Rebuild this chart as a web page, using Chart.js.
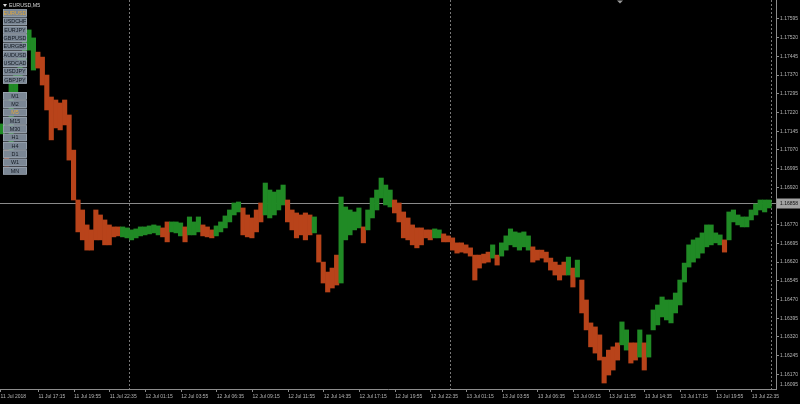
<!DOCTYPE html>
<html><head><meta charset="utf-8">
<script src="https://cdn.jsdelivr.net/npm/chart.js@4.4.1/dist/chart.umd.min.js"></script>
<style>html,body{margin:0;padding:0;background:#000;overflow:hidden}canvas{display:block}</style>
</head><body>
<canvas id="c" width="800" height="404"></canvas>
<script>
// ---------------- DATA ----------------
const symbolName = 'EURUSD';
const timeframeName = 'M5';
const symbols = ['EURUSD','USDCHF','EURJPY','GBPUSD','EURGBP','AUDUSD','USDCAD','USDJPY','GBPJPY'];
const timeframes = ['M1','M2','M5','M15','M30','H1','H4','D1','W1','MN'];
const firstBarTime = Date.UTC(2018, 6, 11, 14, 25);
const barMinutes = 5;
const barsPerSample = 4;   // each drawn block = 4 five-minute bars (20 min)

const highs = [
1.17174,1.17069,1.17350,1.17390,1.17450,1.17511,1.17551,1.17519,1.17462,1.17442,
1.17370,1.17282,1.17270,1.17258,1.17270,1.17210,1.17069,1.16869,1.16829,1.16769,
1.16749,1.16829,1.16809,1.16789,1.16769,1.16761,1.16761,1.16761,1.16757,1.16749,
1.16753,1.16761,1.16761,1.16765,1.16769,1.16765,1.16757,1.16781,1.16781,1.16781,
1.16777,1.16761,1.16801,1.16781,1.16801,1.16769,1.16761,1.16749,1.16765,1.16781,
1.16805,1.16829,1.16857,1.16861,1.16837,1.16809,1.16797,1.16829,1.16857,1.16937,
1.16909,1.16901,1.16909,1.16929,1.16869,1.16829,1.16817,1.16809,1.16817,1.16809,
1.16801,1.16729,1.16620,1.16580,1.16596,1.16648,1.16881,1.16841,1.16829,1.16821,
1.16837,1.16761,1.16829,1.16877,1.16909,1.16957,1.16929,1.16909,1.16869,1.16857,
1.16821,1.16797,1.16769,1.16757,1.16757,1.16749,1.16749,1.16753,1.16749,1.16733,
1.16725,1.16717,1.16697,1.16697,1.16689,1.16677,1.16648,1.16648,1.16652,1.16660,
1.16689,1.16648,1.16697,1.16725,1.16753,1.16741,1.16737,1.16741,1.16725,1.16681,
1.16668,1.16668,1.16660,1.16636,1.16620,1.16608,1.16620,1.16640,1.16596,1.16628,
1.16548,1.16468,1.16376,1.16360,1.16328,1.16239,1.16267,1.16280,1.16296,1.16380,
1.16348,1.16296,1.16296,1.16348,1.16296,1.16328,1.16428,1.16448,1.16480,1.16468,
1.16468,1.16496,1.16548,1.16616,1.16689,1.16709,1.16717,1.16737,1.16769,1.16769,
1.16737,1.16729,1.16709,1.16821,1.16829,1.16809,1.16801,1.16801,1.16829,1.16853,
1.16869,1.16869,1.16869
];
const lows = [
1.17134,1.17005,1.17069,1.17302,1.17350,1.17422,1.17470,1.17390,1.17398,1.17330,
1.17230,1.17110,1.17158,1.17150,1.17170,1.17029,1.16869,1.16741,1.16709,1.16668,
1.16668,1.16709,1.16709,1.16689,1.16689,1.16721,1.16725,1.16721,1.16717,1.16709,
1.16717,1.16725,1.16729,1.16733,1.16737,1.16729,1.16721,1.16701,1.16741,1.16737,
1.16725,1.16701,1.16729,1.16729,1.16741,1.16725,1.16721,1.16717,1.16725,1.16741,
1.16757,1.16781,1.16809,1.16821,1.16729,1.16721,1.16717,1.16741,1.16781,1.16809,
1.16797,1.16809,1.16829,1.16849,1.16781,1.16749,1.16717,1.16729,1.16709,1.16729,
1.16737,1.16620,1.16536,1.16500,1.16516,1.16528,1.16536,1.16709,1.16729,1.16749,
1.16757,1.16697,1.16749,1.16797,1.16829,1.16877,1.16849,1.16841,1.16817,1.16781,
1.16717,1.16709,1.16689,1.16677,1.16689,1.16717,1.16709,1.16717,1.16717,1.16701,
1.16701,1.16668,1.16656,1.16660,1.16656,1.16644,1.16548,1.16596,1.16616,1.16620,
1.16636,1.16608,1.16644,1.16668,1.16689,1.16681,1.16668,1.16681,1.16668,1.16620,
1.16628,1.16636,1.16620,1.16588,1.16568,1.16548,1.16568,1.16568,1.16520,1.16560,
1.16416,1.16348,1.16280,1.16255,1.16227,1.16135,1.16167,1.16187,1.16227,1.16288,
1.16267,1.16215,1.16227,1.16239,1.16187,1.16239,1.16348,1.16368,1.16400,1.16388,
1.16376,1.16416,1.16448,1.16540,1.16600,1.16620,1.16636,1.16656,1.16681,1.16689,
1.16697,1.16689,1.16660,1.16709,1.16781,1.16769,1.16761,1.16761,1.16789,1.16809,
1.16829,1.16821,1.16837
];
// 1 = rising (green), -1 = falling (orange)
const direction = [
1,-1,1,1,1,1,1,1,
-1,-1,-1,-1,-1,-1,-1,-1,-1,-1,-1,-1,-1,-1,-1,-1,-1,-1,-1,
1,1,1,1,1,1,1,1,1,
-1,-1,1,1,1,-1,1,1,1,-1,-1,-1,
1,1,1,1,1,1,
-1,-1,-1,-1,-1,
1,1,1,1,1,
-1,-1,-1,-1,-1,-1,
1,
-1,-1,-1,-1,-1,
1,1,1,1,1,
-1,
1,1,1,1,1,1,
-1,-1,-1,-1,-1,-1,-1,-1,-1,
1,1,
-1,-1,-1,-1,-1,-1,-1,-1,-1,-1,-1,
1,-1,
1,1,1,1,1,1,1,
-1,-1,-1,-1,-1,-1,-1,-1,
1,-1,1,
-1,-1,-1,-1,-1,-1,-1,-1,-1,
1,1,-1,-1,1,-1,
1,1,1,1,1,1,1,1,1,1,1,1,1,1,1,1,1,
-1,
1,1,1,1,1,1,1,1,1,1
];
const lastPrice = 1.16858;
const yTicks = [1.16170,1.16245,1.16320,1.16395,1.16470,1.16545,1.16620,1.16695,1.16770,1.16845,
                1.16920,1.16995,1.17070,1.17145,1.17220,1.17295,1.17370,1.17445,1.17520,1.17595];
const yBottomLabel = '1.16095';
const xTickLabels = ['11 Jul 2018','11 Jul 17:15','11 Jul 19:55','11 Jul 22:35','12 Jul 01:15','12 Jul 03:55',
  '12 Jul 06:35','12 Jul 09:15','12 Jul 11:55','12 Jul 14:35','12 Jul 17:15','12 Jul 19:55','12 Jul 22:35',
  '13 Jul 01:15','13 Jul 03:55','13 Jul 06:35','13 Jul 09:15','13 Jul 11:55','13 Jul 14:35','13 Jul 17:15',
  '13 Jul 19:55','13 Jul 22:35'];
const daySeparators = [Date.UTC(2018,6,12), Date.UTC(2018,6,13), Date.UTC(2018,6,14)];
const viewMinPrice = 1.16111, viewMaxPrice = 1.17671;
const viewFirstBar = -0.5, viewLastBar = 695.7;

// ---------------- HELPERS ----------------
const GREEN = '#208a25', ORANGE = '#b8431a', AXIS = '#8c8c8c', TXT = '#b5b5b5';
const FONT = '"Liberation Sans", Arial, sans-serif';
function barIndex(t){ return (t - firstBarTime) / (barMinutes * 60000); }
function labelTime(s){
  const m = /^(\d+) Jul (\d\d):(\d\d)$/.exec(s);
  return m ? Date.UTC(2018, 6, +m[1], +m[2], +m[3]) : firstBarTime;
}
const xTickValues = xTickLabels.map(s => barIndex(labelTime(s)));
const points = highs.map((h, k) => ({ x: k * barsPerSample + (barsPerSample - 1) / 2, y: [lows[k], h] }));

const mtPlugin = {
  id: 'mt',
  beforeDatasetsDraw(chart){
    const {ctx, chartArea:a, scales:{x, y}} = chart;
    ctx.save();
    // day separators
    ctx.strokeStyle = '#777'; ctx.lineWidth = 1; ctx.setLineDash([2, 2]);
    daySeparators.forEach(t => {
      const px = Math.round(x.getPixelForValue(barIndex(t))) + 0.5;
      ctx.beginPath(); ctx.moveTo(px, a.top); ctx.lineTo(px, a.bottom); ctx.stroke();
    });
    ctx.setLineDash([]);
    // price line
    const py = Math.round(y.getPixelForValue(lastPrice)) + 0.5;
    ctx.strokeStyle = '#8a8a8a';
    ctx.beginPath(); ctx.moveTo(a.left, py); ctx.lineTo(a.right, py); ctx.stroke();
    ctx.restore();
  },
  afterDraw(chart){
    const {ctx, chartArea:a, scales:{x, y}} = chart;
    ctx.save();
    // price label
    const py = Math.round(y.getPixelForValue(lastPrice));
    ctx.fillStyle = '#a3a3a3';
    ctx.fillRect(a.right + 1, py - 4.5, 23, 10);
    ctx.fillStyle = '#111';
    ctx.font = '5px ' + FONT; ctx.textBaseline = 'middle'; ctx.textAlign = 'left';
    ctx.fillText(lastPrice.toFixed(5), a.right + 4, py + 0.5);
    // bottom price label
    ctx.fillStyle = TXT;
    ctx.textBaseline = 'bottom';
    ctx.fillText(yBottomLabel, a.right + 4, a.bottom - 2);
    // chart shift marker
    ctx.fillStyle = '#9a9a9a';
    ctx.beginPath(); ctx.moveTo(617, 0.5); ctx.lineTo(623, 0.5); ctx.lineTo(620, 3.5); ctx.closePath(); ctx.fill();
    // title
    ctx.fillStyle = '#d8d8d8';
    ctx.beginPath(); ctx.moveTo(3, 4); ctx.lineTo(7, 4); ctx.lineTo(5, 7); ctx.closePath(); ctx.fill();
    ctx.font = '5.3px ' + FONT; ctx.textBaseline = 'middle'; ctx.textAlign = 'left';
    ctx.fillText(symbolName + ',' + timeframeName, 9, 6);
    // buttons
    function button(label, top, active){
      const bx = 3, bw = 24, bh = 7.6;
      ctx.fillStyle = '#7b8795';
      ctx.fillRect(bx, top, bw, bh);
      ctx.strokeStyle = '#a7b1bc'; ctx.lineWidth = 0.6;
      ctx.strokeRect(bx + 0.3, top + 0.3, bw - 0.6, bh - 0.6);
      ctx.fillStyle = active ? '#e3a93c' : '#141a22';
      ctx.font = '5.4px ' + FONT; ctx.textAlign = 'center'; ctx.textBaseline = 'middle';
      ctx.fillText(label, bx + bw / 2, top + bh / 2 + 0.4);
    }
    symbols.forEach((s, i) => button(s, 9.3 + i * 8.35, s === symbolName));
    timeframes.forEach((s, i) => button(s, 92 + i * 8.33, s === timeframeName));
    ctx.restore();
  }
};

new Chart(document.getElementById('c'), {
  type: 'bar',
  data: { datasets: [{
    data: points,
    backgroundColor: direction.map(d => d > 0 ? GREEN : ORANGE),
    borderWidth: 0, borderSkipped: false,
    barPercentage: 1, categoryPercentage: 1, grouped: false
  }]},
  options: {
    responsive: false, animation: false, maintainAspectRatio: false,
    layout: { padding: 0 },
    plugins: { legend: { display: false }, tooltip: { enabled: false } },
    scales: {
      x: {
        type: 'linear', position: 'bottom', offset: false,
        min: viewFirstBar, max: viewLastBar,
        grid: { display: true, offset: false, drawOnChartArea: false, drawTicks: true, tickLength: 3, color: AXIS },
        border: { display: true, color: AXIS },
        ticks: { autoSkip: false, maxRotation: 0, align: 'start', padding: 2, color: TXT,
                 font: { size: 5, family: FONT },
                 callback: (v, i) => xTickLabels[i] },
        afterBuildTicks: s => { s.ticks = xTickValues.map(v => ({ value: v })); },
        afterFit: s => { s.height = 15; s.paddingLeft = 0; s.paddingRight = 0; }
      },
      y: {
        type: 'linear', position: 'right',
        min: viewMinPrice, max: viewMaxPrice,
        grid: { display: true, drawOnChartArea: false, drawTicks: true, tickLength: 3, color: AXIS },
        border: { display: true, color: AXIS },
        ticks: { padding: 1, color: TXT, font: { size: 5, family: FONT },
                 callback: v => Number(v).toFixed(5) },
        afterBuildTicks: s => { s.ticks = yTicks.map(v => ({ value: v })); },
        afterFit: s => { s.width = 24; s.paddingTop = 0; s.paddingBottom = 0; }
      }
    }
  },
  plugins: [mtPlugin]
});
</script>
</body></html>
